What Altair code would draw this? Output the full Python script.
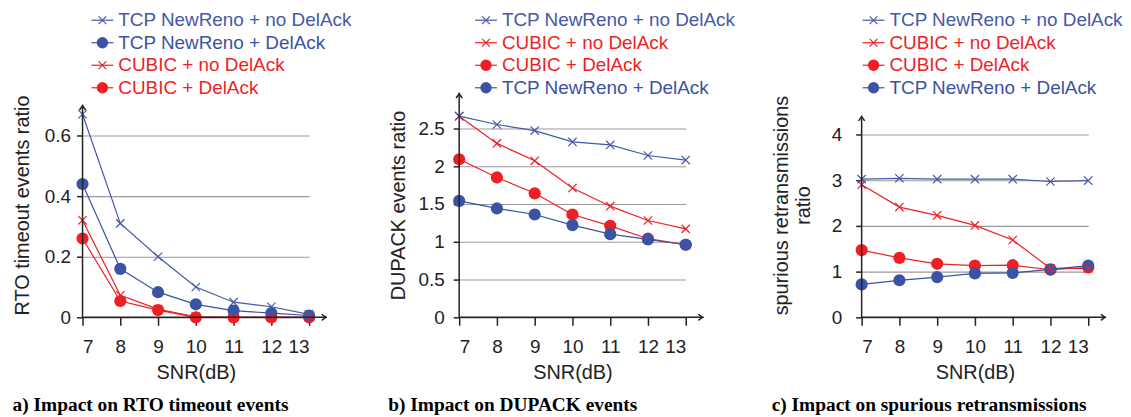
import altair as alt
import pandas as pd

snr = [7, 8, 9, 10, 11, 12, 13]

NR_NO = "TCP NewReno + no DelAck"
NR_DA = "TCP NewReno + DelAck"
CU_NO = "CUBIC + no DelAck"
CU_DA = "CUBIC + DelAck"

legend_a = [NR_NO, NR_DA, CU_NO, CU_DA]
legend_bc = [NR_NO, CU_NO, CU_DA, NR_DA]
draw_order = [CU_NO, CU_DA, NR_NO, NR_DA]

color_map = {NR_NO: "#4359a9", NR_DA: "#3a53a4", CU_NO: "#ee1f25", CU_DA: "#ee1f25"}

# a) RTO timeout events ratio
rto = {
    NR_NO: [0.67, 0.31, 0.20, 0.10, 0.05, 0.035, 0.01],
    NR_DA: [0.44, 0.16, 0.083, 0.043, 0.022, 0.014, 0.006],
    CU_NO: [0.32, 0.073, 0.027, 0.002, 0.0, 0.0, 0.0],
    CU_DA: [0.26, 0.054, 0.024, 0.0, 0.0, 0.0, 0.0],
}
# b) DUPACK events ratio
dup = {
    NR_NO: [2.66, 2.55, 2.47, 2.32, 2.28, 2.14, 2.08],
    CU_NO: [2.66, 2.30, 2.07, 1.71, 1.47, 1.28, 1.17],
    CU_DA: [2.09, 1.85, 1.64, 1.36, 1.21, 1.04, 0.96],
    NR_DA: [1.54, 1.44, 1.36, 1.22, 1.10, 1.03, 0.96],
}
# c) spurious retransmissions ratio
spu = {
    NR_NO: [3.02, 3.04, 3.02, 3.02, 3.02, 2.97, 2.99],
    CU_NO: [2.90, 2.41, 2.23, 2.01, 1.69, 1.07, 1.07],
    CU_DA: [1.47, 1.30, 1.17, 1.13, 1.14, 1.04, 1.09],
    NR_DA: [0.72, 0.81, 0.88, 0.96, 0.97, 1.05, 1.13],
}

W, H = 228, 226
AXC = "#222222"
CROSS = "M-1,-1L1,1M-1,1L1,-1"
UP = "M-0.8,0.6L0,-0.5L0.8,0.6"
RIGHT = "M-0.6,-0.8L0.5,0L-0.6,0.8"

all_series = [NR_NO, NR_DA, CU_NO, CU_DA]
color_scale = alt.Scale(domain=all_series, range=[color_map[s] for s in all_series])


def is_cross(s):
    return s.endswith("no DelAck")


def panel(data, legend_order, ymax, yticks, ytitle, caption, top_px, lab_pad, title_pad, leg_dx):
    rows = []
    for s in draw_order:
        for x, v in zip(snr, data[s]):
            rows.append({"snr": x, "value": v, "series": s,
                         "marker": "cross" if is_cross(s) else "circle"})
    df = pd.DataFrame(rows)

    xenc = alt.X("snr:Q", scale=alt.Scale(domain=[7, 13], nice=False, zero=False),
                 axis=alt.Axis(values=snr, format="d", grid=False, domain=False, tickSize=8,
                               labelPadding=12, title="SNR(dB)", titlePadding=7))
    yenc = alt.Y("value:Q", scale=alt.Scale(domain=[0, ymax], nice=False),
                 axis=alt.Axis(values=yticks, format="~g", grid=True, gridColor="#9a9a9a",
                               gridWidth=1.1, domain=False, tickSize=6, labelPadding=lab_pad,
                               title=ytitle, titlePadding=title_pad))
    col = alt.Color("series:N", scale=color_scale, legend=None)

    base = alt.Chart(df)
    lines = base.mark_line(strokeWidth=1.2).encode(x=xenc, y=yenc, color=col, detail="series:N")
    circles = base.transform_filter(alt.datum.marker == "circle").mark_point(
        shape="circle", filled=True, size=150, opacity=1).encode(x=xenc, y=yenc, color=col)
    crosses = base.transform_filter(alt.datum.marker == "cross").mark_point(
        shape=CROSS, filled=False, size=70, strokeWidth=1.2, opacity=1).encode(x=xenc, y=yenc, color=col)

    one = pd.DataFrame({"k": [0]})
    yaxis_line = alt.Chart(one).mark_rule(color=AXC, strokeWidth=1.5).encode(
        x=alt.value(0), y=alt.value(H), y2=alt.value(top_px))
    xaxis_line = alt.Chart(one).mark_rule(color=AXC, strokeWidth=1.5).encode(
        x=alt.value(0), x2=alt.value(W + 18), y=alt.value(H))
    up_arrow = alt.Chart(one).mark_point(shape=UP, filled=False, size=60, strokeWidth=1.5,
                                         color=AXC, opacity=1).encode(
        x=alt.value(0), y=alt.value(top_px + 3))
    right_arrow = alt.Chart(one).mark_point(shape=RIGHT, filled=False, size=60, strokeWidth=1.5,
                                            color=AXC, opacity=1).encode(
        x=alt.value(W + 15), y=alt.value(H))

    ldf = pd.DataFrame({"series": legend_order, "row": list(range(len(legend_order))),
                        "marker": ["cross" if is_cross(s) else "circle" for s in legend_order]})
    ly = alt.Y("row:Q", scale=alt.Scale(domain=[0, 3], range=[-73, -5]), axis=None)
    lbase = alt.Chart(ldf)
    leg_rule = lbase.mark_rule(strokeWidth=1.2).encode(
        x=alt.value(leg_dx), x2=alt.value(leg_dx + 22), y=ly, color=col)
    leg_circ = lbase.transform_filter(alt.datum.marker == "circle").mark_point(
        shape="circle", filled=True, size=130, opacity=1).encode(
        x=alt.value(leg_dx + 11), y=ly, color=col)
    leg_cross = lbase.transform_filter(alt.datum.marker == "cross").mark_point(
        shape=CROSS, filled=False, size=60, strokeWidth=1.2, opacity=1).encode(
        x=alt.value(leg_dx + 11), y=ly, color=col)
    leg_text = lbase.mark_text(align="left", baseline="middle", fontSize=19,
                               font="Liberation Sans").encode(
        x=alt.value(leg_dx + 27), y=ly, text="series:N", color=col)

    main = alt.layer(lines, circles, crosses, yaxis_line, xaxis_line, up_arrow, right_arrow)
    legend = alt.layer(leg_rule, leg_circ, leg_cross, leg_text)

    return alt.layer(main, legend).resolve_scale(y="independent").properties(
        width=W, height=H,
        title=alt.TitleParams(caption, orient="bottom", anchor="start", frame="bounds",
                              font="Liberation Serif", fontSize=19.5, fontWeight="bold",
                              color="black", offset=13),
    )


pa = panel(rto, legend_a, 0.741, [0, 0.2, 0.4, 0.6], "RTO timeout events ratio",
           "a) Impact on RTO timeout events", 12, 6, 12, 9)
pb = panel(dup, legend_bc, 2.97, [0, 0.5, 1, 1.5, 2, 2.5], "DUPACK events ratio",
           "b) Impact on DUPACK events", 0, 9, 10, 16)
pc = panel(spu, legend_bc, 4.91, [0, 1, 2, 3, 4], ["spurious retransmissions", "ratio"],
           "c) Impact on spurious retransmissions", 23, 14, 18, 1)

chart = alt.hconcat(pa, pb, pc, spacing=36).properties(
    padding={"left": 4, "top": 2, "right": 0, "bottom": 0},
    background="white",
).configure_view(stroke=None).configure_axis(
    labelFont="Liberation Sans", titleFont="Liberation Sans", labelFontSize=19,
    titleFontSize=20, titleFontWeight="normal", labelColor=AXC, titleColor=AXC,
    tickColor=AXC, tickWidth=1.5,
)

chart.save("out.html", embed_options={"renderer": "svg", "actions": False})
